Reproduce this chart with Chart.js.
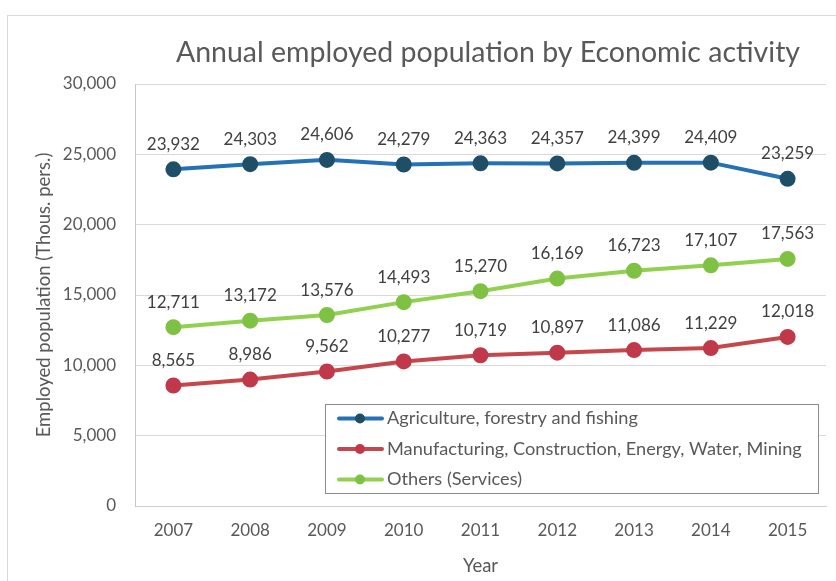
<!DOCTYPE html>
<html>
<head>
<meta charset="utf-8">
<script src="https://cdn.jsdelivr.net/npm/chart.js@4/dist/chart.umd.min.js"></script>
<style>
  html, body { margin: 0; padding: 0; background: #ffffff; }
  #wrap { position: relative; width: 836px; height: 581px; }
</style>
</head>
<body>
<div id="wrap"><canvas id="chart" width="836" height="581"></canvas></div>
<script>
// Employed population by economic activity, thousands of persons
const years = ['2007', '2008', '2009', '2010', '2011', '2012', '2013', '2014', '2015'];
const agriculture = [23932, 24303, 24606, 24279, 24363, 24357, 24399, 24409, 23259];
const industry = [8565, 8986, 9562, 10277, 10719, 10897, 11086, 11229, 12018];
const services = [12711, 13172, 13576, 14493, 15270, 16169, 16723, 17107, 17563];
const seriesNames = [
  'Agriculture, forestry and fishing',
  'Manufacturing, Construction, Energy, Water, Mining',
  'Others (Services)'
];
const yTicks = [0, 5000, 10000, 15000, 20000, 25000, 30000];

const FONT = 'Lato, "Open Sans", sans-serif';
const TEXT = '#595959';

function fmt(v) { return v.toLocaleString('en-US'); }

// Frame around the whole figure and the centred title
const framePlugin = {
  id: 'frame',
  beforeDraw(chart) {
    const ctx = chart.ctx;
    ctx.save();
    ctx.fillStyle = '#ffffff';
    ctx.fillRect(0, 0, chart.width, chart.height);
    ctx.strokeStyle = '#d9d9d9';
    ctx.lineWidth = 1;
    ctx.strokeRect(7.5, 15.5, chart.width + 20, chart.height + 20);
    ctx.fillStyle = TEXT;
    ctx.font = '28.5px ' + FONT;
    ctx.textAlign = 'center';
    ctx.textBaseline = 'middle';
    ctx.fillText('Annual employed population by Economic activity', 488, 53);
    ctx.restore();
  }
};

// Value labels above every point
const valueLabels = {
  id: 'valueLabels',
  afterDatasetsDraw(chart) {
    const ctx = chart.ctx;
    ctx.save();
    ctx.fillStyle = '#404040';
    ctx.font = '17px ' + FONT;
    ctx.textAlign = 'center';
    ctx.textBaseline = 'middle';
    chart.data.datasets.forEach((ds, i) => {
      chart.getDatasetMeta(i).data.forEach((pt, j) => {
        ctx.fillText(fmt(ds.data[j]), pt.x, pt.y - 25);
      });
    });
    ctx.restore();
  }
};

// Boxed legend placed inside the plot area
const boxLegend = {
  id: 'boxLegend',
  afterDraw(chart) {
    const ctx = chart.ctx;
    const box = { x: 325.5, y: 404.5, w: 493, h: 89 };
    ctx.save();
    ctx.fillStyle = '#ffffff';
    ctx.fillRect(box.x, box.y, box.w, box.h);
    ctx.strokeStyle = '#8c8c8c';
    ctx.lineWidth = 1;
    ctx.strokeRect(box.x, box.y, box.w, box.h);
    ctx.font = '18.2px ' + FONT;
    ctx.textBaseline = 'middle';
    ctx.textAlign = 'left';
    chart.data.datasets.forEach((ds, i) => {
      const y = box.y + 14 + i * 30.5;
      ctx.strokeStyle = ds.borderColor;
      ctx.lineWidth = 4;
      ctx.lineCap = 'round';
      ctx.beginPath();
      ctx.moveTo(339, y);
      ctx.lineTo(382, y);
      ctx.stroke();
      ctx.fillStyle = ds.pointBackgroundColor;
      ctx.beginPath();
      ctx.arc(360, y, 5, 0, Math.PI * 2);
      ctx.fill();
      ctx.fillStyle = TEXT;
      ctx.fillText(ds.label, 387, y);
    });
    ctx.restore();
  }
};

function series(label, data, line, point) {
  return {
    label, data,
    borderColor: line,
    backgroundColor: line,
    pointBackgroundColor: point,
    pointBorderColor: point,
    borderWidth: 4,
    pointRadius: 6,
    pointHoverRadius: 6,
    tension: 0
  };
}

new Chart(document.getElementById('chart'), {
  type: 'line',
  data: {
    labels: years,
    datasets: [
      series(seriesNames[0], agriculture, '#2471b5', '#1f4f66'),
      series(seriesNames[1], industry, '#c6474b', '#c0394a'),
      series(seriesNames[2], services, '#92d050', '#7fc143')
    ]
  },
  options: {
    responsive: false,
    animation: false,
    layout: { padding: { top: 84, right: 10, bottom: 0, left: 0 } },
    plugins: {
      legend: { display: false },
      title: { display: false },
      tooltip: { enabled: false }
    },
    scales: {
      x: {
        offset: true,
        grid: { display: false, drawTicks: false },
        border: { display: true, color: '#d0d0d0', width: 1 },
        ticks: { color: TEXT, font: { family: FONT, size: 17 }, padding: 14, maxRotation: 0 },
        title: { display: true, text: 'Year', color: TEXT, font: { family: FONT, size: 18.5 }, padding: { top: 0, bottom: 4 } },
        afterFit(scale) { scale.width = scale.width; scale.height = 75; }
      },
      y: {
        min: 0,
        max: 30000,
        afterBuildTicks(scale) { scale.ticks = yTicks.map(v => ({ value: v })); },
        grid: { color: '#d9d9d9', drawTicks: false },
        border: { display: true, color: '#c8c8c8', width: 1 },
        ticks: { color: TEXT, font: { family: FONT, size: 17 }, padding: 19, callback: v => fmt(v) },
        title: { display: true, text: 'Employed population (Thous. pers.)', color: TEXT, font: { family: FONT, size: 18.5 }, padding: { top: 33, bottom: 0 } },
        afterFit(scale) { scale.width = 135; }
      }
    }
  },
  plugins: [framePlugin, valueLabels, boxLegend]
});
</script>
</body>
</html>
